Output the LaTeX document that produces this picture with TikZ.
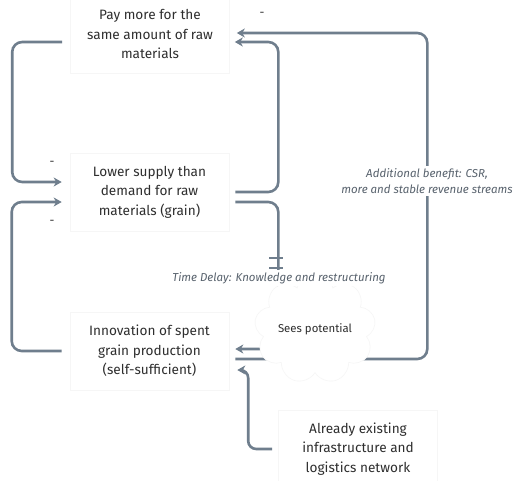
\documentclass[tikz,border=0pt]{standalone}
\usepackage{fontspec}
\setmainfont{Fira Sans}
\usetikzlibrary{arrows.meta,calc,shapes.symbols}
\definecolor{linkcol}{HTML}{6F7E8D}
\definecolor{textcol}{HTML}{2E2E2E}
\definecolor{notecol}{HTML}{58626D}
\definecolor{boxedge}{HTML}{F6F6F6}
\tikzset{
  factor/.style={draw=boxedge, fill=white, line width=0.6pt, text=textcol,
    align=center, font=\fontsize{13.6}{19.5}\selectfont,
    minimum width=159pt, minimum height=78pt, inner sep=0pt},
  flow/.style={draw=linkcol, line width=2.6pt, rounded corners=10pt,
    -{Stealth[length=8pt,width=9pt,inset=2.5pt]}},
  note/.style={fill=white, text=notecol, align=center, inner sep=2pt,
    font=\fontsize{11.5}{16}\selectfont\itshape},
  sign/.style={text=textcol, font=\fontsize{12}{12}\selectfont, inner sep=0pt},
  tick/.style={draw=linkcol, line width=1.4pt}
}
\begin{document}
\begin{tikzpicture}[x=1pt,y=-1pt]
\useasboundingbox[fill=white] (0,0) rectangle (516,481);

% factors
\node[factor] (pay) at (150,34) {Pay more for the\\same amount of raw\\materials};
\node[factor] (low) at (149.5,192) {Lower supply than\\demand for raw\\materials (grain)};
\node[factor] (innov) at (149.5,351) {Innovation of spent\\grain production\\(self-sufficient)};
\node[factor] (infra) at (358,449) {Already existing\\infrastructure and\\logistics network};

% polarity signs
\node[sign] (m1) at (262,14) {-};
\node[sign] (m2) at (52,163) {-};
\node[sign] (m3) at (52,222) {-};

% loops on the left
\draw[flow] ($(pay.west)+(-8,8)$) -- ++(-50,0) |- ($(low.west)+(-8,-10)$);
\draw[flow] ($(innov.west)+(-8,0)$) -- ++(-50,0) |- ($(low.west)+(-8,10)$);

% loop between the upper two factors
\draw[flow] ($(low.east)+(6,0)$) -- ++(43,0) |- ($(pay.east)+(5,8)$);

% long feedback to the top factor
\draw[flow] ($(innov.east)+(6,8)$) -- ++(192,0) |- ($(pay.east)+(7,-1)$);

% delayed link down to the innovation
\draw[flow] ($(low.east)+(6,10)$) -- ++(43,0) |- ($(innov.east)+(6,-2)$);
\draw[tick] (269,258) -- (283,258);
\draw[tick] (269,268) -- (283,268);

% infrastructure feeding the innovation
\draw[flow, rounded corners=8pt] ($(infra.west)+(-6,0)$) -- ++(-24,0) |- ($(innov.east)+(8,19)$);

% cloud and labels over the links
\node[cloud, cloud puffs=9, aspect=1.2, draw=boxedge, fill=white, line width=0.6pt,
  minimum width=74pt, minimum height=64pt, inner sep=0pt, text=textcol,
  font=\fontsize{11.4}{12}\selectfont] (sees) at (315,329) {Sees potential};
\node[note] (delay) at (279,278) {Time Delay: Knowledge and restructuring};
\node[note] (benefit) at (427,181) {Additional benefit: CSR,\\more and stable revenue streams};
\end{tikzpicture}
\end{document}
